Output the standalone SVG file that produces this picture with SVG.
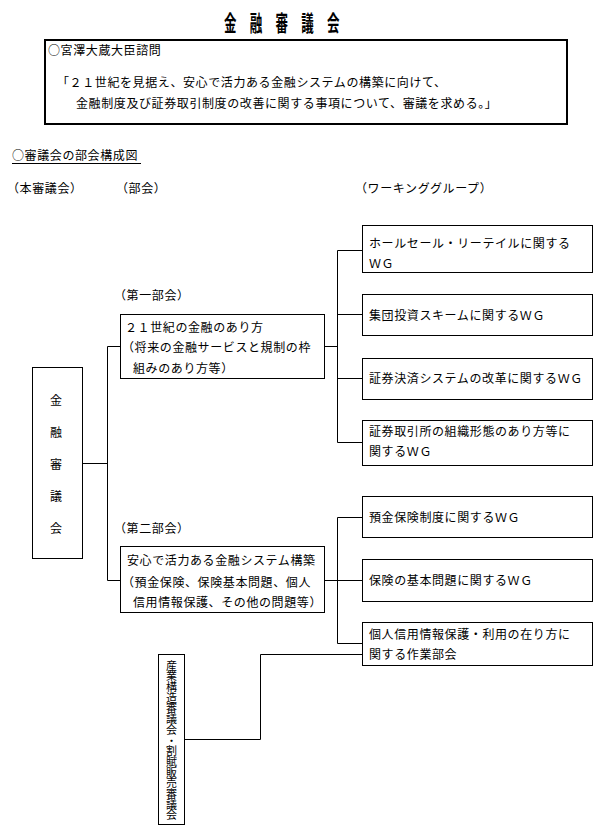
<svg xmlns="http://www.w3.org/2000/svg" width="603" height="834" viewBox="0 0 603 834">
<style>
text{font-family:"Noto Sans CJK JP","Noto Sans CJK SC",sans-serif;font-size:12px;letter-spacing:0.6px;fill:#000}
.box{fill:#fff;stroke:#000;stroke-width:1}
.frame{fill:#fff;stroke:#000;stroke-width:2}
.ln{fill:none;stroke:#000;stroke-width:1}
.ttl{font-size:12.5px;font-weight:bold;letter-spacing:13.25px}
.vt{writing-mode:vertical-rl;font-size:11px;letter-spacing:-0.3px}
</style>
<rect width="603" height="834" fill="#fff"/>
<g id="title"><text class="ttl" transform="translate(224,31) scale(1,1.7)">金融審議会</text></g>
<g id="inquiry">
<rect class="frame" x="45" y="40" width="522" height="84"/>
<text x="48" y="55">○宮澤大蔵大臣諮問</text>
<text x="57" y="86.5">「２１世紀を見据え、安心で活力ある金融システムの構築に向けて、</text>
<text x="76" y="107.5">金融制度及び証券取引制度の改善に関する事項について、審議を求める。」</text>
</g>
<g id="heading">
<text x="12" y="159.5">○審議会の部会構成図</text>
<line class="ln" x1="12" y1="163.5" x2="141" y2="163.5"/>
<text x="7" y="192.5">（本審議会）</text>
<text x="116" y="192.5">（部会）</text>
<text x="355" y="192.5">（ワーキンググループ）</text>
</g>
<g id="connectors">
<polyline class="ln" points="82,463.5 107.5,463.5"/>
<polyline class="ln" points="120,346.5 107.5,346.5 107.5,580.5 120,580.5"/>
<polyline class="ln" points="324,346.5 337.5,346.5"/>
<polyline class="ln" points="362,250.5 337.5,250.5 337.5,442.5 362,442.5"/>
<line class="ln" x1="337.5" y1="314.5" x2="362" y2="314.5"/>
<line class="ln" x1="337.5" y1="378.5" x2="362" y2="378.5"/>
<polyline class="ln" points="324,580.5 337.5,580.5"/>
<polyline class="ln" points="362,517.5 337.5,517.5 337.5,643.5 362,643.5"/>
<line class="ln" x1="337.5" y1="580.5" x2="362" y2="580.5"/>
<polyline class="ln" points="184,739.5 260.5,739.5 260.5,654.5 362,654.5"/>
</g>
<g id="kinyu">
<rect class="box" x="32.5" y="367.5" width="50" height="191"/>
<text x="50" y="404.5">金</text>
<text x="50" y="436.5">融</text>
<text x="50" y="468.5">審</text>
<text x="50" y="500.5">議</text>
<text x="50" y="532.5">会</text>
</g>
<g id="bukai1">
<text x="114" y="299.5">（第一部会）</text>
<rect class="box" x="120.5" y="314.5" width="204" height="64"/>
<text x="125" y="331.5">２１世紀の金融のあり方</text>
<text x="122" y="351.5">（将来の金融サービスと規制の枠</text>
<text x="133" y="372.5">組みのあり方等）</text>
</g>
<g id="bukai2">
<text x="114" y="532.5">（第二部会）</text>
<rect class="box" x="120.5" y="546.5" width="204" height="66"/>
<text x="127" y="564.5">安心で活力ある金融システム構築</text>
<text x="122" y="586.5">（預金保険、保険基本問題、個人</text>
<text x="133" y="606.5">信用情報保護、その他の問題等）</text>
</g>
<g id="wg1">
<rect class="box" x="362.5" y="225.5" width="230" height="47"/>
<text x="369" y="247.5">ホールセール・リーテイルに関する</text>
<text x="369" y="267.5">ＷＧ</text>
</g>
<g id="wg2">
<rect class="box" x="362.5" y="294.5" width="230" height="41"/>
<text x="369" y="319.5">集団投資スキームに関するＷＧ</text>
</g>
<g id="wg3">
<rect class="box" x="362.5" y="358.5" width="230" height="41"/>
<text x="369" y="382.5">証券決済システムの改革に関するＷＧ</text>
</g>
<g id="wg4">
<rect class="box" x="362.5" y="420.5" width="230" height="45"/>
<text x="369" y="435.5">証券取引所の組織形態のあり方等に</text>
<text x="369" y="455.5">関するＷＧ</text>
</g>
<g id="wg5">
<rect class="box" x="362.5" y="496.5" width="230" height="41"/>
<text x="369" y="521.5">預金保険制度に関するＷＧ</text>
</g>
<g id="wg6">
<rect class="box" x="362.5" y="559.5" width="230" height="42"/>
<text x="369" y="584.5">保険の基本問題に関するＷＧ</text>
</g>
<g id="wg7">
<rect class="box" x="362.5" y="622.5" width="230" height="43"/>
<text x="369" y="638.5">個人信用情報保護・利用の在り方に</text>
<text x="369" y="658.5">関する作業部会</text>
</g>
<g id="sangyo">
<rect class="box" x="158.5" y="654.5" width="26" height="170"/>
<text class="vt" x="171.5" y="660">産業構造審議会・割賦販売審議会</text>
</g>
</svg>
